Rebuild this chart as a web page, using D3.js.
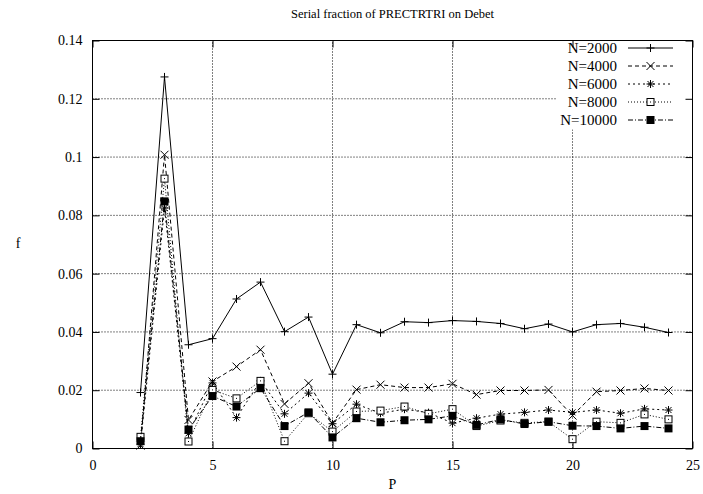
<!DOCTYPE html>
<html><head><meta charset="utf-8">
<script src="https://cdn.jsdelivr.net/npm/d3@7"></script>
<style>body{margin:0;background:#fff}svg{display:block}</style>
</head><body><svg id="c" width="703" height="494"></svg>
<script>
const P = [2,3,4,5,6,7,8,9,10,11,12,13,14,15,16,17,18,19,20,21,22,23,24];
const n2000  = [0.0192,0.1275,0.0356,0.0377,0.0513,0.0571,0.0401,0.0451,0.0255,0.0425,0.0397,0.0435,0.0432,0.0439,0.0436,0.0429,0.0411,0.0427,0.0400,0.0425,0.0429,0.0416,0.0398];
const n4000  = [0.0010,0.1008,0.0098,0.0230,0.0281,0.0339,0.0153,0.0224,0.0087,0.0202,0.0219,0.0209,0.0209,0.0222,0.0185,0.0199,0.0199,0.0201,0.0113,0.0195,0.0199,0.0206,0.0199];
const n6000  = [0.0015,0.0825,0.0052,0.0225,0.0106,0.0232,0.0119,0.0190,0.0085,0.0152,0.0121,0.0135,0.0123,0.0087,0.0104,0.0118,0.0124,0.0132,0.0124,0.0132,0.0121,0.0136,0.0132];
const n8000  = [0.0040,0.0926,0.0024,0.0201,0.0172,0.0232,0.0025,0.0121,0.0058,0.0127,0.0130,0.0144,0.0119,0.0135,0.0077,0.0096,0.0088,0.0092,0.0032,0.0092,0.0088,0.0117,0.0100];
const n10000 = [0.0025,0.0848,0.0065,0.0180,0.0144,0.0207,0.0077,0.0124,0.0038,0.0104,0.0090,0.0097,0.0100,0.0112,0.0081,0.0100,0.0084,0.0092,0.0078,0.0077,0.0069,0.0077,0.0069];
const seriesNames = ["N=2000","N=4000","N=6000","N=8000","N=10000"];
const xTicks = [0,5,10,15,20,25];
const yTicks = [0,0.02,0.04,0.06,0.08,0.1,0.12,0.14];
const title = "Serial fraction of PRECTRTRI on Debet";

const FONT = "'Liberation Serif', 'Times New Roman', Times, 'DejaVu Serif', 'Noto Serif', serif";

const series = [
  {name: seriesNames[0], vals: n2000,  dash: null,        marker: "plus"},
  {name: seriesNames[1], vals: n4000,  dash: "4,3",       marker: "cross"},
  {name: seriesNames[2], vals: n6000,  dash: "2,3",       marker: "star"},
  {name: seriesNames[3], vals: n8000,  dash: "1,2",       marker: "box"},
  {name: seriesNames[4], vals: n10000, dash: "5,2,1,2",   marker: "fbox"}
];

const svg = d3.select("#c").attr("font-family", FONT);
const L = 92.5, R = 692.5, T = 40.5, B = 448.5;
const x = d3.scaleLinear().domain([0,25]).range([L,R]);
const y = d3.scaleLinear().domain([0,0.14]).range([B,T]);

// grid
const g = svg.append("g");
g.selectAll("line.gx").data(xTicks.filter(d=>d>0&&d<25)).enter().append("line")
  .attr("x1",d=>x(d)).attr("x2",d=>x(d)).attr("y1",B).attr("y2",T)
  .attr("stroke","#000").attr("stroke-width",1).attr("stroke-dasharray","1,2");
g.selectAll("line.gy").data(yTicks.filter(d=>d>0&&d<0.14)).enter().append("line")
  .attr("x1",L).attr("x2",R).attr("y1",d=>y(d)).attr("y2",d=>y(d))
  .attr("stroke","#000").attr("stroke-width",1).attr("stroke-dasharray","1,2");

// legend background (hides grid)
svg.append("rect").attr("x",556).attr("y",T+1).attr("width",R-556-1).attr("height",88).attr("fill","#fff");

const fmt = d => d===0?"0":String(+d.toFixed(2));
const axB = svg.append("g").attr("transform",`translate(0,${B})`)
  .call(d3.axisBottom(x).tickValues(xTicks).tickSize(-7).tickPadding(12).tickFormat(d3.format("d")));
const axT = svg.append("g").attr("transform",`translate(0,${T})`)
  .call(d3.axisTop(x).tickValues(xTicks).tickSize(-7).tickFormat(""));
const axL = svg.append("g").attr("transform",`translate(${L},0)`)
  .call(d3.axisLeft(y).tickValues(yTicks).tickSize(-7).tickPadding(10).tickFormat(fmt));
const axR = svg.append("g").attr("transform",`translate(${R},0)`)
  .call(d3.axisRight(y).tickValues(yTicks).tickSize(-7).tickFormat(""));
[axB,axT,axL,axR].forEach(a=>{
  a.attr("font-family", FONT).attr("font-size", 14);
  a.select(".domain").remove();
  a.selectAll("line").attr("stroke","#000");
  a.selectAll("text").attr("fill","#000");
});
svg.append("rect").attr("x",L).attr("y",T).attr("width",R-L).attr("height",B-T)
  .attr("fill","none").attr("stroke","#000").attr("stroke-width",1);

function drawMarker(sel, type, cx, cy){
  const s = 4;
  if(type==="plus"||type==="star"){
    sel.append("line").attr("x1",cx-s).attr("x2",cx+s).attr("y1",cy).attr("y2",cy).attr("stroke","#000");
    sel.append("line").attr("x1",cx).attr("x2",cx).attr("y1",cy-s).attr("y2",cy+s).attr("stroke","#000");
  }
  if(type==="cross"||type==="star"){
    const k = type==="star"?3:4;
    sel.append("line").attr("x1",cx-k).attr("x2",cx+k).attr("y1",cy-k).attr("y2",cy+k).attr("stroke","#000");
    sel.append("line").attr("x1",cx-k).attr("x2",cx+k).attr("y1",cy+k).attr("y2",cy-k).attr("stroke","#000");
  }
  if(type==="box"){
    sel.append("rect").attr("x",cx-3.5).attr("y",cy-3.5).attr("width",7).attr("height",7).attr("fill","#fff").attr("stroke","#000");
    sel.append("rect").attr("x",cx-0.5).attr("y",cy-0.5).attr("width",1).attr("height",1).attr("fill","#000");
  }
  if(type==="fbox"){
    sel.append("rect").attr("x",cx-4).attr("y",cy-4).attr("width",8).attr("height",8).attr("fill","#000");
  }
}

const line = d3.line().x(d=>x(d[0])).y(d=>y(d[1]));
series.forEach(s=>{
  const pts = P.map((p,i)=>[p,s.vals[i]]);
  const gg = svg.append("g");
  gg.append("path").attr("d",line(pts)).attr("fill","none").attr("stroke","#000").attr("stroke-width",1)
    .attr("stroke-dasharray",s.dash);
  pts.forEach(pt=>drawMarker(gg, s.marker, x(pt[0]), y(pt[1])));
});

series.forEach((s,i)=>{
  const ly = 48 + i*18;
  svg.append("text").attr("x",617).attr("y",ly).attr("dy","0.35em").attr("text-anchor","end")
    .attr("font-size",15).attr("fill","#000").text(s.name);
  const lg = svg.append("g");
  lg.append("line").attr("x1",628).attr("x2",673).attr("y1",ly).attr("y2",ly).attr("stroke","#000").attr("stroke-dasharray",s.dash);
  drawMarker(lg, s.marker, 650.5, ly);
});

svg.append("text").attr("x",(L+R)/2).attr("y",18).attr("text-anchor","middle").attr("font-size",12.5).text(title);
svg.append("text").attr("x",(L+R)/2).attr("y",489).attr("text-anchor","middle").attr("font-size",14).text("P");
svg.append("text").attr("x",18).attr("y",248).attr("text-anchor","middle").attr("font-size",14).text("f");
</script></body></html>
